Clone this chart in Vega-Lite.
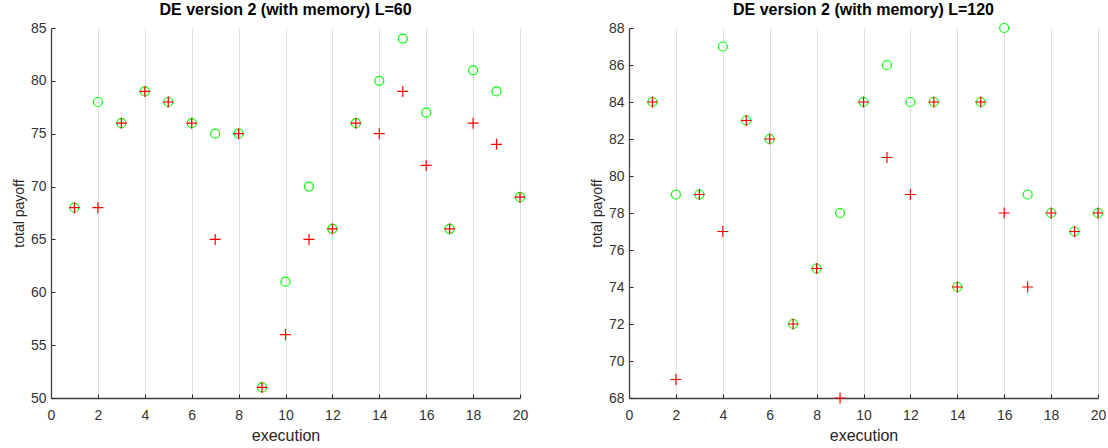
{
  "$schema": "https://vega.github.io/schema/vega-lite/v6.json",
  "padding": {"left": 12, "top": 2, "right": 0, "bottom": 0},
  "spacing": 62,
  "datasets": {
    "L60": [
      {"execution": 1, "circle": 68, "plus": 68},
      {"execution": 2, "circle": 78, "plus": 68},
      {"execution": 3, "circle": 76, "plus": 76},
      {"execution": 4, "circle": 79, "plus": 79},
      {"execution": 5, "circle": 78, "plus": 78},
      {"execution": 6, "circle": 76, "plus": 76},
      {"execution": 7, "circle": 75, "plus": 65},
      {"execution": 8, "circle": 75, "plus": 75},
      {"execution": 9, "circle": 51, "plus": 51},
      {"execution": 10, "circle": 61, "plus": 56},
      {"execution": 11, "circle": 70, "plus": 65},
      {"execution": 12, "circle": 66, "plus": 66},
      {"execution": 13, "circle": 76, "plus": 76},
      {"execution": 14, "circle": 80, "plus": 75},
      {"execution": 15, "circle": 84, "plus": 79},
      {"execution": 16, "circle": 77, "plus": 72},
      {"execution": 17, "circle": 66, "plus": 66},
      {"execution": 18, "circle": 81, "plus": 76},
      {"execution": 19, "circle": 79, "plus": 74},
      {"execution": 20, "circle": 69, "plus": 69}
    ],
    "L120": [
      {"execution": 1, "circle": 84, "plus": 84},
      {"execution": 2, "circle": 79, "plus": 69},
      {"execution": 3, "circle": 79, "plus": 79},
      {"execution": 4, "circle": 87, "plus": 77},
      {"execution": 5, "circle": 83, "plus": 83},
      {"execution": 6, "circle": 82, "plus": 82},
      {"execution": 7, "circle": 72, "plus": 72},
      {"execution": 8, "circle": 75, "plus": 75},
      {"execution": 9, "circle": 78, "plus": 68},
      {"execution": 10, "circle": 84, "plus": 84},
      {"execution": 11, "circle": 86, "plus": 81},
      {"execution": 12, "circle": 84, "plus": 79},
      {"execution": 13, "circle": 84, "plus": 84},
      {"execution": 14, "circle": 74, "plus": 74},
      {"execution": 15, "circle": 84, "plus": 84},
      {"execution": 16, "circle": 88, "plus": 78},
      {"execution": 17, "circle": 79, "plus": 74},
      {"execution": 18, "circle": 78, "plus": 78},
      {"execution": 19, "circle": 77, "plus": 77},
      {"execution": 20, "circle": 78, "plus": 78}
    ]
  },
  "hconcat": [
    {
      "width": 469,
      "height": 370,
      "title": {"text": "DE version 2  (with memory) L=60", "fontSize": 16, "fontWeight": "bold", "color": "#000000", "font": "Liberation Sans", "offset": 3},
      "data": {"name": "L60"},
      "encoding": {
        "x": {"field": "execution", "type": "quantitative", "title": "execution",
              "scale": {"domain": [0, 20], "nice": false},
              "axis": {"values": [0, 2, 4, 6, 8, 10, 12, 14, 16, 18, 20], "grid": true, "gridColor": "#dfdfdf",
                       "domainColor": "#404040", "domainWidth": 1.3, "tickColor": "#262626", "tickSize": -4,
                       "labelFont": "Liberation Sans", "labelFontSize": 14, "labelColor": "#333333", "labelPadding": 14, "labelFlush": false,
                       "titleFont": "Liberation Sans", "titleFontSize": 16, "titleFontWeight": "normal", "titleColor": "#262626", "titlePadding": 5}}
      },
      "layer": [
        {
          "mark": {"type": "point", "shape": "circle", "filled": false, "stroke": "#00ff00", "strokeWidth": 1.2, "size": 81, "opacity": 1},
          "encoding": {
            "y": {"field": "circle", "type": "quantitative", "title": "total payoff",
                  "scale": {"domain": [50, 85], "nice": false, "zero": false},
                  "axis": {"values": [50, 55, 60, 65, 70, 75, 80, 85], "grid": false,
                           "domainColor": "#404040", "domainWidth": 1.3, "tickColor": "#262626", "tickSize": -4,
                           "labelFont": "Liberation Sans", "labelFontSize": 14, "labelColor": "#333333", "labelPadding": 9, "labelOverlap": false, "labelFlush": false,
                           "titleFont": "Liberation Sans", "titleFontSize": 14, "titleFontWeight": "normal", "titleColor": "#262626", "titlePadding": 4}}
          }
        },
        {
          "mark": {"type": "point", "shape": "M-1,0H1M0,-1V1", "filled": false, "stroke": "#ff0000", "strokeWidth": 1.2, "size": 121, "opacity": 1},
          "encoding": {
            "y": {"field": "plus", "type": "quantitative", "title": "total payoff",
                  "axis": {"values": [50, 55, 60, 65, 70, 75, 80, 85], "grid": false,
                           "domainColor": "#404040", "domainWidth": 1.3, "tickColor": "#262626", "tickSize": -4,
                           "labelFont": "Liberation Sans", "labelFontSize": 14, "labelColor": "#333333", "labelPadding": 9, "labelOverlap": false, "labelFlush": false,
                           "titleFont": "Liberation Sans", "titleFontSize": 14, "titleFontWeight": "normal", "titleColor": "#262626", "titlePadding": 4}}
          }
        }
      ]
    },
    {
      "width": 469,
      "height": 370,
      "title": {"text": "DE version 2 (with memory) L=120", "fontSize": 16, "fontWeight": "bold", "color": "#000000", "font": "Liberation Sans", "offset": 3},
      "data": {"name": "L120"},
      "encoding": {
        "x": {"field": "execution", "type": "quantitative", "title": "execution",
              "scale": {"domain": [0, 20], "nice": false},
              "axis": {"values": [0, 2, 4, 6, 8, 10, 12, 14, 16, 18, 20], "grid": true, "gridColor": "#dfdfdf",
                       "domainColor": "#404040", "domainWidth": 1.3, "tickColor": "#262626", "tickSize": -4,
                       "labelFont": "Liberation Sans", "labelFontSize": 14, "labelColor": "#333333", "labelPadding": 14, "labelFlush": false,
                       "titleFont": "Liberation Sans", "titleFontSize": 16, "titleFontWeight": "normal", "titleColor": "#262626", "titlePadding": 5}}
      },
      "layer": [
        {
          "mark": {"type": "point", "shape": "circle", "filled": false, "stroke": "#00ff00", "strokeWidth": 1.2, "size": 81, "opacity": 1},
          "encoding": {
            "y": {"field": "circle", "type": "quantitative", "title": "total payoff",
                  "scale": {"domain": [68, 88], "nice": false, "zero": false},
                  "axis": {"values": [68, 70, 72, 74, 76, 78, 80, 82, 84, 86, 88], "grid": false,
                           "domainColor": "#404040", "domainWidth": 1.3, "tickColor": "#262626", "tickSize": -4,
                           "labelFont": "Liberation Sans", "labelFontSize": 14, "labelColor": "#333333", "labelPadding": 9, "labelOverlap": false, "labelFlush": false,
                           "titleFont": "Liberation Sans", "titleFontSize": 14, "titleFontWeight": "normal", "titleColor": "#262626", "titlePadding": 4}}
          }
        },
        {
          "mark": {"type": "point", "shape": "M-1,0H1M0,-1V1", "filled": false, "stroke": "#ff0000", "strokeWidth": 1.2, "size": 121, "opacity": 1},
          "encoding": {
            "y": {"field": "plus", "type": "quantitative", "title": "total payoff",
                  "axis": {"values": [68, 70, 72, 74, 76, 78, 80, 82, 84, 86, 88], "grid": false,
                           "domainColor": "#404040", "domainWidth": 1.3, "tickColor": "#262626", "tickSize": -4,
                           "labelFont": "Liberation Sans", "labelFontSize": 14, "labelColor": "#333333", "labelPadding": 9, "labelOverlap": false, "labelFlush": false,
                           "titleFont": "Liberation Sans", "titleFontSize": 14, "titleFontWeight": "normal", "titleColor": "#262626", "titlePadding": 4}}
          }
        }
      ]
    }
  ],
  "resolve": {"scale": {"y": "independent"}},
  "config": {
    "font": "Liberation Sans",
    "view": {"stroke": null}
  }
}
